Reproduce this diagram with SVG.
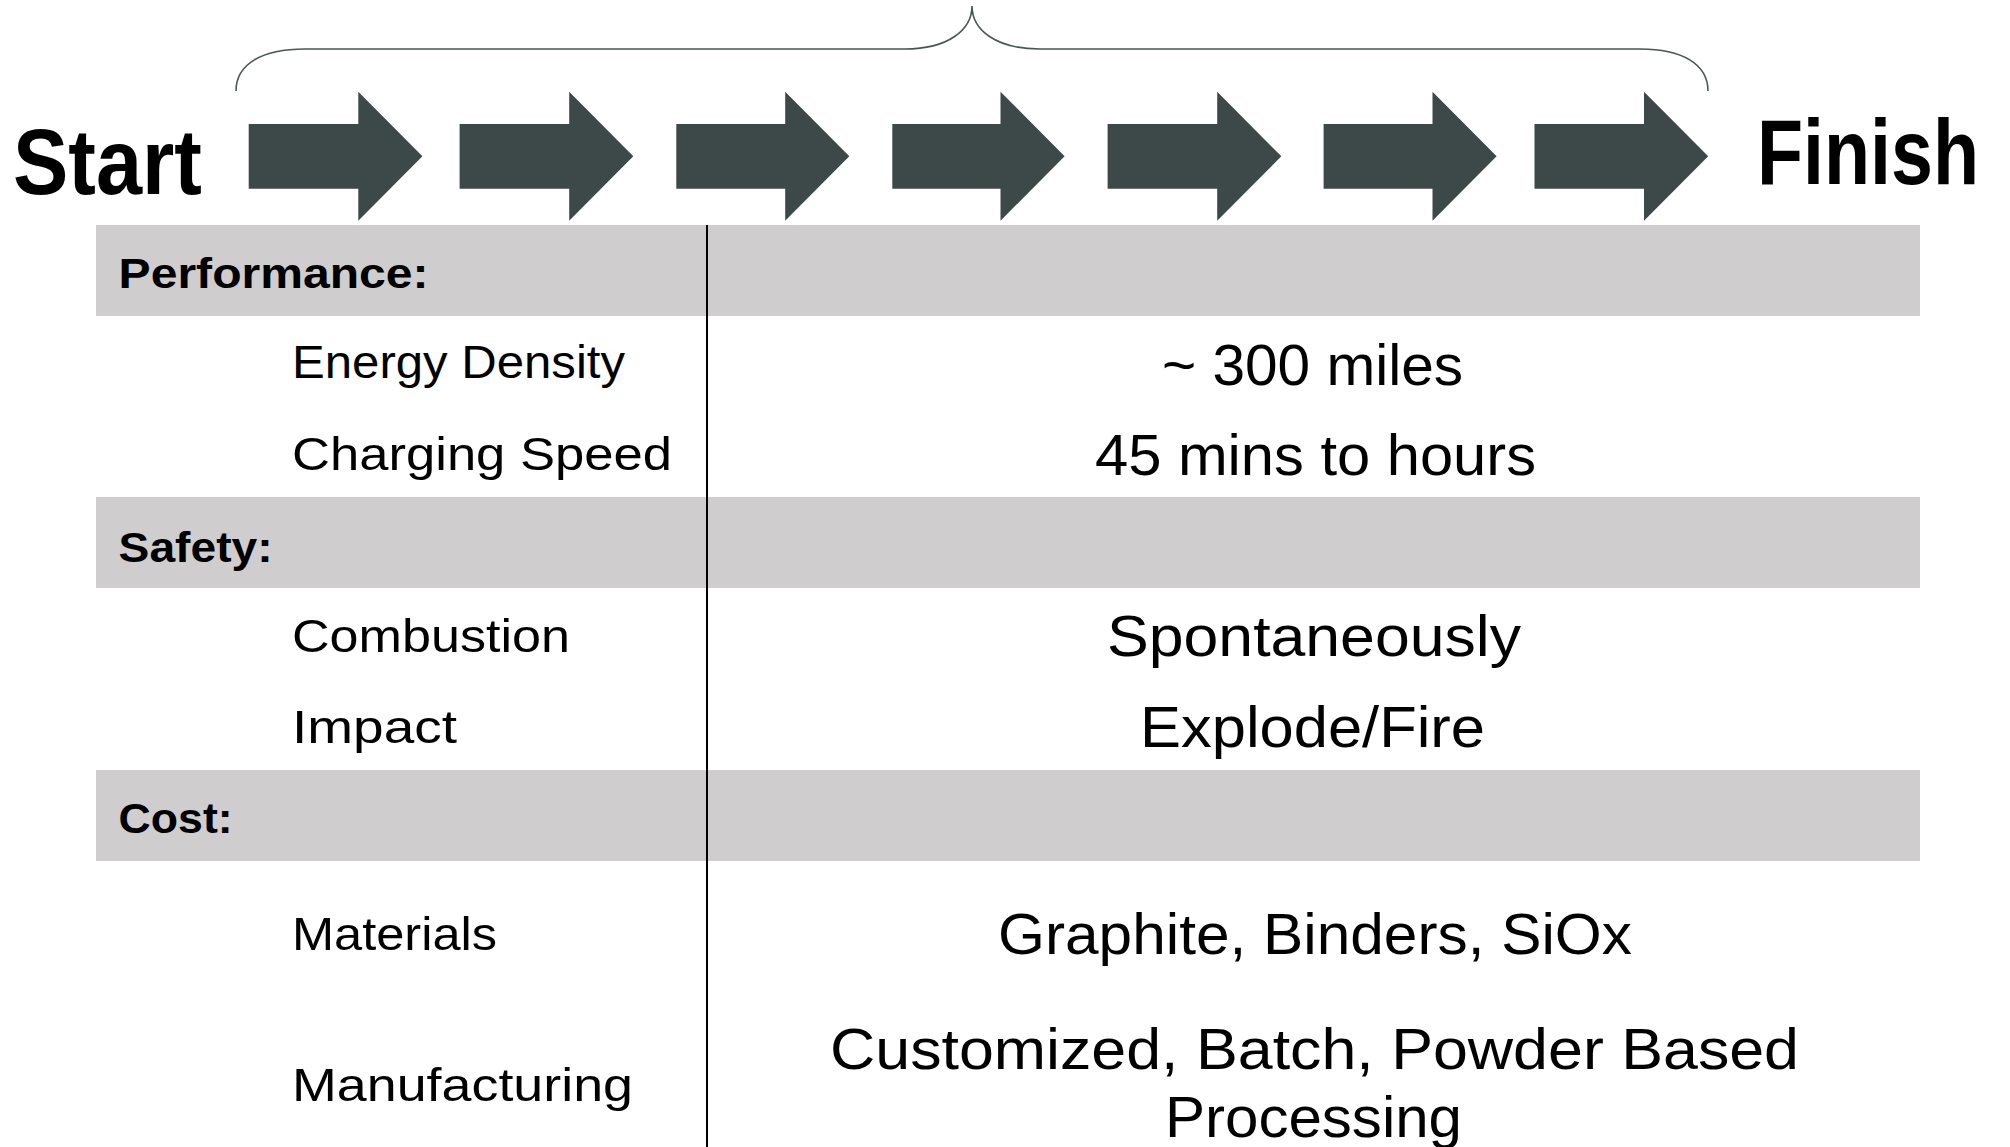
<svg xmlns="http://www.w3.org/2000/svg" width="2010" height="1147" viewBox="0 0 2010 1147">
<style>
.arrow{fill:#3C4948}
.bar{fill:#CFCDCE}
.big{font-family:"Liberation Sans",Arial,sans-serif;font-weight:bold;font-size:92px;fill:#000}
.hdr{font-family:"Liberation Sans",Arial,sans-serif;font-weight:bold;font-size:43px;fill:#000}
.lbl{font-family:"Liberation Sans",Arial,sans-serif;font-size:46px;fill:#000}
.val{font-family:"Liberation Sans",Arial,sans-serif;font-size:57px;fill:#000}
</style>
<rect width="2010" height="1147" fill="#fff"/>
<g id="brace">
<path d="M236,91 C236,64 262,49 305,49 L905,49 C948,49 972,30 972,6 C972,30 996,49 1040,49 L1640,49 C1682,49 1708,64 1708,91" fill="none" stroke="#4A5555" stroke-width="1.6"/>
</g>
<g id="start"><text class="big" x="13" y="194" textLength="189" lengthAdjust="spacingAndGlyphs">Start</text></g>
<g id="finish"><text class="big" transform="translate(1757,184) scale(0.82,1)" x="0" y="0" textLength="270.7" lengthAdjust="spacingAndGlyphs">Finish</text></g>
<g id="arrows">
<polygon class="arrow" points="248.7,124 358.3,124 358.3,91.7 422.4,156.3 358.3,220.7 358.3,188.7 248.7,188.7"/>
<polygon class="arrow" points="459.6,124 569.2,124 569.2,91.7 633.3,156.3 569.2,220.7 569.2,188.7 459.6,188.7"/>
<polygon class="arrow" points="676.3,124 785.2,124 785.2,91.7 849.3,156.3 785.2,220.7 785.2,188.7 676.3,188.7"/>
<polygon class="arrow" points="892.3,124 1000.5,124 1000.5,91.7 1064.6,156.3 1000.5,220.7 1000.5,188.7 892.3,188.7"/>
<polygon class="arrow" points="1107.6,124 1217.2,124 1217.2,91.7 1281.3,156.3 1217.2,220.7 1217.2,188.7 1107.6,188.7"/>
<polygon class="arrow" points="1323.6,124 1432.5,124 1432.5,91.7 1496.6,156.3 1432.5,220.7 1432.5,188.7 1323.6,188.7"/>
<polygon class="arrow" points="1534.5,124 1644,124 1644,91.7 1708.2,156.3 1644,220.7 1644,188.7 1534.5,188.7"/>
</g>
<g id="table">
<rect class="bar" x="96" y="225" width="1824" height="91"/>
<rect class="bar" x="96" y="497" width="1824" height="91"/>
<rect class="bar" x="96" y="770" width="1824" height="91"/>
<line x1="707" y1="225" x2="707" y2="1147" stroke="#000" stroke-width="2"/>
</g>
<g id="performance">
<text class="hdr" x="118.6" y="288" textLength="310" lengthAdjust="spacingAndGlyphs">Performance:</text>
<text class="lbl" x="292" y="378" textLength="333" lengthAdjust="spacingAndGlyphs">Energy Density</text>
<text class="val" x="1162" y="385" textLength="301" lengthAdjust="spacingAndGlyphs">~ 300 miles</text>
<text class="lbl" x="292" y="470" textLength="380" lengthAdjust="spacingAndGlyphs">Charging Speed</text>
<text class="val" x="1095" y="475" textLength="441" lengthAdjust="spacingAndGlyphs">45 mins to hours</text>
</g>
<g id="safety">
<text class="hdr" x="118.6" y="562" textLength="154" lengthAdjust="spacingAndGlyphs">Safety:</text>
<text class="lbl" x="292" y="652" textLength="278" lengthAdjust="spacingAndGlyphs">Combustion</text>
<text class="val" x="1107" y="656" textLength="414" lengthAdjust="spacingAndGlyphs">Spontaneously</text>
<text class="lbl" x="292" y="743" textLength="165" lengthAdjust="spacingAndGlyphs">Impact</text>
<text class="val" x="1140" y="747" textLength="345" lengthAdjust="spacingAndGlyphs">Explode/Fire</text>
</g>
<g id="cost">
<text class="hdr" x="118.6" y="833" textLength="114" lengthAdjust="spacingAndGlyphs">Cost:</text>
<text class="lbl" x="292" y="950" textLength="205" lengthAdjust="spacingAndGlyphs">Materials</text>
<text class="val" x="998" y="954" textLength="634" lengthAdjust="spacingAndGlyphs">Graphite, Binders, SiOx</text>
<text class="lbl" x="292" y="1101" textLength="341" lengthAdjust="spacingAndGlyphs">Manufacturing</text>
<text class="val" x="830" y="1069" textLength="969" lengthAdjust="spacingAndGlyphs">Customized, Batch, Powder Based</text>
<text class="val" x="1165" y="1137" textLength="297" lengthAdjust="spacingAndGlyphs">Processing</text>
</g>
</svg>
